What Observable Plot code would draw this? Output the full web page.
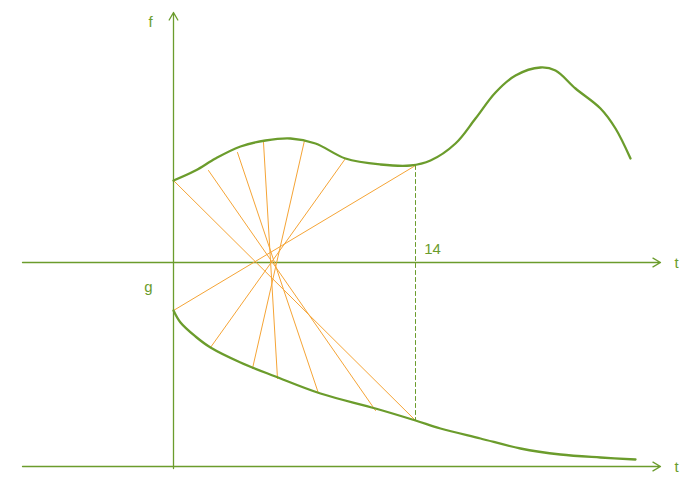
<!DOCTYPE html>
<html><head><meta charset="utf-8">
<script src="https://cdn.jsdelivr.net/npm/d3@7"></script>
<script src="https://cdn.jsdelivr.net/npm/@observablehq/plot@0.6"></script>
<style>body{margin:0;background:#fff}</style>
</head><body><div id="chart"></div>
<script>
// curve points (pixel-like units)
const fCurve = [[173,180],[195,170],[215,158],[240,146],[265,140],[290,138],[315,143],[345,158],[380,164],[410,165],[430,160],[455,143],[475,118],[495,92],[515,75],[540,67],[555,70],[575,88],[600,108],[615,128],[630,158]];
const gCurve = [[173,310],[180,322],[195,336],[210,347],[240,362],[275,376],[320,393],[375,408],[415,420],[440,428],[480,438],[520,448],[560,454],[600,457],[635,459]];
const chords = [
  [[173,180],[415,420]], [[208,170],[375,410]], [[237,152],[318,393]],
  [[263,142],[277,378]], [[304,140],[252,368]], [[345,158],[210,347]],
  [[415,165],[173,310]]
];
const axes = [
  [[173,468],[173,12]], [[22,262],[660,262]], [[22,466],[660,466]]
];
const labels = [
  {x:150,y:22,t:"f"},{x:676,y:263,t:"t"},{x:148,y:287,t:"g"},
  {x:676,y:467,t:"t"},{x:432,y:249,t:"14"}
];
const green = "#6b9c2c", orange = "#f5a436";

const chart = Plot.plot({
  width: 693, height: 498,
  margin: 0,
  x: {domain: [0, 693], axis: null},
  y: {domain: [498, 0], axis: null},
  style: {fontFamily: "Liberation Sans, Arial, sans-serif"},
  marks: [
    ...axes.map(a => Plot.arrow([a], {x1: d => d[0][0], y1: d => d[0][1], x2: d => d[1][0], y2: d => d[1][1], stroke: green, strokeWidth: 1.3, headLength: 10})),
    ...chords.map(c => Plot.line(c, {x: d => d[0], y: d => d[1], stroke: orange, strokeWidth: 1})),
    Plot.line([[415,165],[415,420]], {x: d => d[0], y: d => d[1], stroke: green, strokeDasharray: "4,3", strokeWidth: 1}),
    Plot.line(fCurve, {x: d => d[0], y: d => d[1], curve: "catmull-rom", stroke: green, strokeWidth: 2.3}),
    Plot.line(gCurve, {x: d => d[0], y: d => d[1], curve: "catmull-rom", stroke: green, strokeWidth: 2.3}),
    Plot.text(labels, {x: "x", y: "y", text: "t", fill: green, fontSize: 15})
  ]
});
document.getElementById("chart").append(chart);
</script></body></html>
